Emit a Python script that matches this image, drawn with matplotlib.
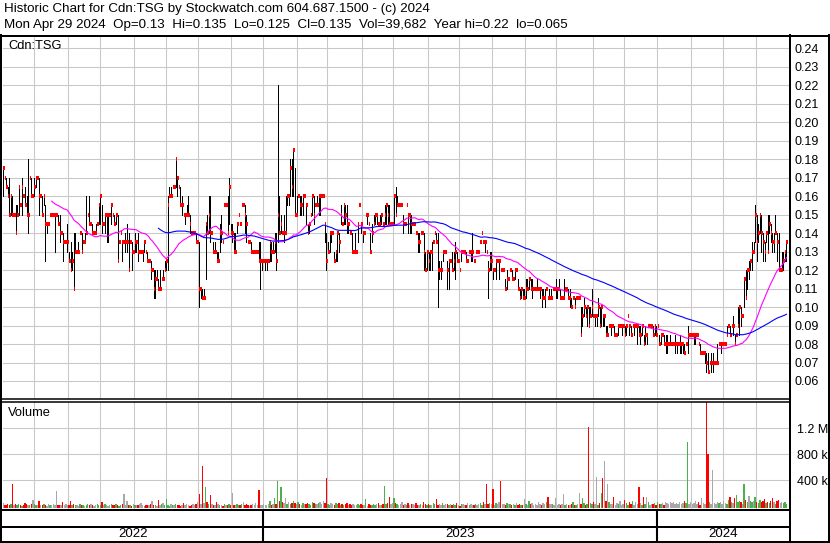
import matplotlib
matplotlib.use('Agg')
import matplotlib.pyplot as plt
import numpy as np
import pandas as pd

# daily bars, prices in half-cent units (1 = $0.005)
HI = [35, 34, 34, 33, 34, 32, 32, 30, 31, 31,
      33, 31, 34, 32, 33, 32, 36, 34, 34, 32,
      34, 34, 34, 34, 32, 32, 32, 31, 29, 29,
      30, 30, 30, 30, 30, 30, 30, 28, 28, 27,
      27, 29, 26, 27, 26, 28, 28, 26, 27, 28,
      28, 27, 28, 32, 30, 32, 29, 29, 28, 29,
      29, 31, 32, 31, 29, 30, 30, 30, 30, 31,
      30, 30, 30, 30, 27, 28, 27, 27, 28, 29,
      28, 27, 27, 26, 28, 27, 28, 26, 26, 26,
      27, 26, 26, 25, 25, 24, 24, 24, 24, 23,
      24, 23, 24, 25, 25, 32, 33, 33, 33, 33,
      36, 34, 33, 33, 32, 30, 30, 31, 32, 30,
      28, 28, 28, 28, 27, 27, 22, 22, 22, 29,
      30, 32, 32, 28, 27, 27, 26, 26, 29, 30,
      27, 31, 31, 32, 34, 29, 29, 28, 28, 29,
      30, 29, 31, 31, 31, 30, 27, 27, 27, 26,
      26, 26, 26, 27, 27, 25, 25, 25, 25, 25,
      27, 27, 27, 28, 28, 44, 32, 30, 28, 30,
      32, 32, 32, 36, 36, 37, 35, 32, 32, 32,
      32, 32, 32, 31, 29, 29, 30, 32, 32, 31,
      32, 32, 32, 32, 32, 29, 28, 27, 28, 28,
      28, 26, 26, 28, 28, 31, 29, 31, 31, 31,
      29, 28, 28, 26, 28, 26, 29, 31, 29, 28,
      28, 30, 30, 29, 28, 29, 30, 30, 30, 29,
      30, 30, 29, 31, 31, 31, 31, 29, 29, 32,
      33, 32, 31, 31, 31, 30, 29, 31, 30, 30,
      30, 29, 29, 28, 28, 28, 28, 28, 28, 26,
      26, 26, 26, 27, 27, 28, 28, 28, 25, 25,
      26, 26, 26, 25, 25, 25, 26, 26, 27, 26,
      25, 24, 26, 26, 26, 26, 25, 26, 26, 28,
      25, 26, 26, 26, 27, 28, 27, 27, 26, 25,
      26, 26, 24, 24, 25, 25, 25, 24, 24, 24,
      23, 24, 23, 24, 24, 23, 24, 24, 23, 22,
      22, 22, 22, 23, 23, 23, 23, 23, 22, 22,
      23, 22, 22, 22, 22, 22, 22, 21, 22, 22,
      22, 22, 23, 22, 23, 22, 21, 23, 22, 22,
      22, 22, 21, 21, 21, 21, 21, 21, 20, 20,
      21, 20, 20, 20, 20, 22, 19, 19, 19, 21,
      20, 20, 19, 19, 18, 18, 18, 18, 18, 18,
      17, 17, 18, 18, 18, 18, 18, 18, 19, 18,
      18, 18, 18, 18, 18, 18, 18, 18, 17, 18,
      17, 18, 18, 18, 18, 18, 18, 18, 17, 17,
      17, 17, 17, 17, 16, 17, 16, 16, 17, 16,
      16, 17, 16, 16, 16, 16, 18, 17, 17, 17,
      17, 17, 17, 16, 16, 15, 15, 15, 15, 15,
      14, 15, 15, 14, 14, 16, 16, 16, 16, 16,
      16, 18, 18, 18, 18, 19, 17, 17, 20, 20,
      20, 19, 23, 24, 24, 25, 25, 27, 27, 31,
      30, 29, 30, 30, 28, 27, 28, 30, 30, 29,
      28, 28, 30, 28, 28, 24, 26, 26, 26, 27]

LO = [32, 34, 33, 32, 30, 30, 30, 30, 28, 30,
      30, 31, 30, 32, 31, 30, 28, 34, 32, 32,
      32, 33, 34, 30, 32, 30, 31, 25, 28, 29,
      30, 30, 30, 26, 30, 29, 27, 28, 25, 27,
      27, 26, 25, 24, 24, 22, 26, 26, 26, 28,
      26, 27, 27, 28, 30, 29, 29, 28, 28, 28,
      29, 29, 29, 28, 29, 28, 27, 27, 30, 29,
      30, 29, 29, 25, 27, 28, 25, 27, 26, 26,
      24, 27, 24, 26, 26, 26, 25, 26, 26, 25,
      26, 26, 25, 25, 23, 24, 21, 21, 23, 22,
      22, 23, 23, 24, 24, 24, 32, 32, 33, 33,
      33, 32, 33, 31, 30, 30, 29, 30, 30, 28,
      28, 28, 28, 27, 27, 20, 21, 21, 21, 23,
      28, 28, 27, 28, 26, 26, 25, 25, 26, 27,
      27, 31, 31, 28, 29, 28, 27, 26, 26, 28,
      30, 29, 31, 31, 28, 27, 27, 27, 26, 26,
      26, 26, 26, 25, 22, 24, 25, 24, 24, 25,
      25, 25, 26, 26, 24, 27, 28, 28, 28, 27,
      28, 31, 31, 32, 32, 32, 30, 30, 32, 30,
      30, 30, 32, 29, 28, 28, 30, 30, 29, 31,
      31, 30, 30, 32, 32, 27, 24, 26, 26, 27,
      28, 25, 25, 25, 26, 29, 29, 29, 29, 28,
      28, 28, 26, 26, 26, 26, 27, 31, 28, 27,
      28, 30, 29, 29, 26, 27, 29, 29, 29, 29,
      29, 29, 29, 29, 29, 29, 29, 29, 29, 29,
      30, 31, 31, 31, 31, 28, 29, 31, 28, 28,
      28, 29, 29, 28, 26, 26, 28, 28, 24, 24,
      24, 24, 24, 24, 27, 28, 27, 20, 23, 23,
      25, 26, 26, 22, 22, 25, 24, 24, 23, 25,
      25, 24, 25, 26, 26, 25, 25, 26, 25, 25,
      25, 26, 26, 26, 27, 28, 27, 26, 26, 21,
      24, 24, 23, 24, 23, 25, 23, 24, 24, 24,
      22, 22, 23, 24, 23, 23, 23, 24, 22, 21,
      21, 21, 21, 21, 22, 22, 22, 21, 22, 22,
      22, 22, 21, 20, 21, 20, 22, 21, 21, 21,
      22, 22, 21, 21, 22, 21, 21, 21, 22, 22,
      21, 20, 20, 21, 20, 21, 21, 21, 17, 18,
      19, 19, 18, 18, 19, 19, 19, 18, 18, 19,
      18, 18, 18, 18, 17, 17, 18, 17, 18, 17,
      17, 17, 17, 18, 17, 18, 17, 17, 19, 17,
      17, 18, 17, 18, 16, 17, 16, 17, 16, 16,
      16, 18, 18, 18, 17, 17, 17, 18, 16, 16,
      17, 16, 15, 15, 16, 16, 16, 16, 15, 15,
      16, 15, 15, 15, 15, 16, 15, 17, 17, 17,
      16, 16, 17, 16, 15, 15, 15, 14, 13, 13,
      14, 13, 13, 14, 14, 14, 16, 15, 16, 16,
      16, 17, 18, 17, 18, 17, 16, 17, 18, 17,
      18, 19, 20, 21, 22, 23, 24, 24, 26, 27,
      25, 27, 28, 26, 25, 25, 27, 26, 28, 27,
      26, 26, 28, 25, 24, 24, 24, 24, 25, 25]

CL = [35, 34, 33, 32, 30, 32, 30, 30, 28, 30,
      33, 31, 33, 32, 31, 30, 30, 34, 32, 32,
      33, 34, 34, 32, 32, 30, 32, 29, 29, 29,
      30, 30, 30, 30, 30, 29, 28, 28, 27, 27,
      27, 27, 25, 24, 25, 22, 26, 26, 26, 28,
      26, 27, 27, 28, 30, 29, 29, 28, 28, 28,
      29, 31, 32, 29, 29, 30, 30, 30, 30, 31,
      30, 29, 30, 25, 27, 28, 27, 27, 27, 27,
      24, 27, 26, 26, 27, 27, 26, 26, 26, 26,
      27, 26, 25, 25, 24, 24, 22, 23, 23, 22,
      22, 23, 23, 24, 25, 31, 32, 32, 33, 33,
      36, 34, 33, 31, 31, 30, 30, 30, 30, 29,
      28, 28, 28, 27, 27, 22, 22, 21, 21, 29,
      28, 30, 28, 28, 26, 26, 25, 25, 28, 28,
      27, 31, 31, 28, 33, 28, 28, 26, 26, 29,
      30, 29, 31, 31, 30, 29, 27, 27, 26, 26,
      26, 26, 26, 25, 25, 25, 25, 25, 25, 25,
      27, 26, 26, 27, 25, 30, 28, 29, 28, 28,
      28, 32, 32, 35, 33, 37, 30, 30, 32, 31,
      31, 32, 32, 31, 28, 29, 30, 32, 30, 31,
      31, 32, 32, 32, 32, 29, 25, 26, 28, 28,
      28, 25, 26, 28, 27, 30, 29, 31, 30, 29,
      29, 28, 26, 26, 26, 26, 29, 31, 29, 28,
      28, 30, 30, 29, 26, 28, 29, 30, 30, 29,
      29, 30, 29, 30, 31, 30, 29, 29, 29, 32,
      30, 31, 31, 31, 31, 29, 29, 31, 30, 30,
      29, 29, 29, 28, 27, 27, 28, 28, 26, 24,
      26, 25, 26, 26, 27, 28, 27, 24, 24, 24,
      26, 26, 26, 24, 25, 25, 24, 25, 26, 25,
      25, 24, 26, 26, 26, 25, 25, 26, 26, 26,
      25, 26, 26, 26, 27, 28, 27, 27, 26, 24,
      25, 25, 24, 24, 25, 25, 25, 24, 24, 24,
      22, 23, 23, 24, 23, 23, 24, 24, 22, 21,
      22, 21, 21, 22, 22, 23, 22, 22, 22, 22,
      22, 22, 22, 21, 21, 21, 22, 21, 21, 21,
      22, 22, 22, 22, 22, 21, 21, 21, 22, 22,
      21, 21, 20, 21, 20, 21, 21, 21, 17, 19,
      20, 19, 20, 18, 19, 20, 19, 19, 19, 20,
      18, 20, 19, 19, 17, 17, 18, 18, 18, 17,
      17, 17, 18, 18, 18, 18, 17, 18, 19, 18,
      17, 18, 18, 18, 18, 17, 17, 18, 16, 17,
      17, 18, 18, 18, 17, 18, 17, 18, 16, 17,
      17, 16, 16, 16, 16, 16, 16, 16, 16, 16,
      16, 16, 16, 16, 15, 16, 17, 17, 17, 17,
      17, 17, 17, 16, 15, 15, 15, 15, 14, 13,
      14, 14, 14, 14, 14, 14, 16, 16, 16, 16,
      16, 17, 18, 17, 18, 18, 16, 17, 18, 20,
      19, 19, 23, 21, 24, 24, 25, 26, 26, 30,
      27, 28, 30, 28, 27, 26, 28, 26, 29, 28,
      27, 27, 28, 27, 24, 24, 24, 25, 26, 27]

# daily volume, thousands of shares
VOL_K = [45, 25, 20, 40, 15, 30, 338, 20, 35, 15, 40, 25, 12, 20, 50, 35, 20, 15, 30, 100, 35, 20, 25, 80, 15,
         20, 35, 15, 12, 40, 25, 20, 35, 15, 234, 25, 15, 20, 65, 15, 35, 25, 15, 80, 20, 30, 15, 25, 12, 35,
         15, 25, 12, 20, 35, 15, 40, 25, 12, 20, 30, 15, 25, 65, 20, 35, 15, 12, 25, 40, 20, 15, 30, 25, 12,
         15, 35, 190, 20, 80, 15, 25, 12, 40, 20, 15, 25, 35, 50, 20, 12, 25, 15, 20, 35, 85, 25, 15, 12, 100,
         20, 35, 55, 25, 110, 15, 12, 40, 20, 25, 35, 15, 25, 12, 20, 50, 15, 30, 20, 12, 25, 35, 15, 40, 60,
         197, 35, 623, 50, 300, 70, 35, 180, 40, 25, 15, 60, 35, 25, 20, 12, 35, 15, 25, 40, 20, 208, 15, 25, 35,
         25, 15, 35, 60, 20, 40, 15, 12, 25, 35, 20, 50, 15, 244, 25, 20, 35, 15, 25, 40, 75, 20, 35, 130, 35,
         390, 90, 300, 60, 45, 130, 40, 60, 30, 50, 75, 45, 30, 65, 40, 25, 45, 30, 40, 55, 30, 25, 60, 55, 35,
         30, 50, 60, 35, 85, 45, 431, 30, 25, 55, 35, 25, 45, 30, 55, 25, 35, 15, 30, 45, 20, 35, 25, 30, 15,
         25, 30, 15, 35, 20, 25, 110, 12, 30, 25, 15, 35, 20, 30, 45, 20, 25, 35, 311, 30, 45, 150, 35, 55, 130,
         45, 30, 25, 35, 60, 20, 30, 15, 50, 25, 35, 30, 20, 45, 25, 15, 35, 25, 70, 30, 20, 35, 15, 25, 45,
         30, 110, 25, 35, 15, 45, 20, 30, 40, 25, 35, 15, 30, 20, 45, 25, 12, 30, 35, 15, 25, 45, 20, 30, 15,
         25, 35, 15, 30, 45, 20, 60, 30, 348, 35, 45, 30, 260, 25, 45, 35, 60, 390, 30, 35, 25, 45, 40, 30, 20,
         30, 25, 45, 15, 35, 25, 20, 110, 30, 25, 80, 35, 45, 20, 30, 15, 65, 35, 25, 45, 30, 60, 140, 35, 30,
         30, 20, 130, 25, 40, 15, 30, 190, 20, 35, 25, 15, 30, 60, 20, 25, 40, 200, 30, 125, 45, 25, 30, 1210, 50,
         30, 60, 40, 457, 25, 50, 200, 442, 690, 80, 338, 60, 40, 30, 150, 25, 50, 35, 80, 20, 30, 100, 45, 25, 60,
         40, 80, 25, 60, 30, 300, 45, 20, 150, 35, 150, 60, 25, 40, 30, 50, 20, 60, 40, 35, 55, 25, 70, 45, 30,
         60, 45, 70, 30, 55, 40, 65, 35, 50, 80, 45, 987, 40, 60, 30, 55, 75, 40, 60, 25, 125, 50, 40, 1700, 805,
         60, 40, 555, 50, 30, 70, 45, 60, 35, 80, 55, 40, 100, 150, 60, 45, 125, 180, 70, 90, 60, 40, 338, 100, 60,
         165, 80, 60, 90, 150, 70, 50, 100, 60, 80, 110, 45, 70, 55, 90, 125, 60, 40, 80, 100, 55, 70, 45, 60, 40]

# first bar of each month (gridlines) and of each year
MONTH_STARTS = [20, 42, 62, 84, 104, 125, 146, 166, 188, 207, 229, 249,
                271, 291, 312, 333, 353, 376, 396, 417, 439, 459, 480]
YEAR_STARTS = [166, 417]
YEARS = ['2022', '2023', '2024']

PRICE_TICKS = [0.06, 0.07, 0.08, 0.09, 0.10, 0.11, 0.12, 0.13, 0.14, 0.15,
               0.16, 0.17, 0.18, 0.19, 0.20, 0.21, 0.22, 0.23, 0.24]
VOL_TICKS = [400000, 800000, 1200000]
VOL_TICK_LABELS = ['400 k', '800 k', '1.2 M']

TITLE = 'Historic Chart for Cdn:TSG by Stockwatch.com 604.687.1500 - (c) 2024'
INFO = ('Mon Apr 29 2024  Op=0.13  Hi=0.135  Lo=0.125  Cl=0.135  '
        'Vol=39,682  Year hi=0.22  lo=0.065')
SYMBOL = 'Cdn:TSG'
FAST_MA = 32
SLOW_MA = 100

W, H = 830, 543
GRID = '#c8c8c8'


def box(x0, y0, x1, y1):
    # pixel rectangle (top-left origin) -> figure fraction
    return [x0 / W, 1 - y1 / H, (x1 - x0) / W, (y1 - y0) / H]


assert len(HI) == len(LO) == len(CL) == len(VOL_K)

plt.rcParams['font.family'] = ['Liberation Sans', 'DejaVu Sans']
fig = plt.figure(figsize=(W / 100, H / 100), dpi=100)

hi = np.array(HI) * 0.005
lo = np.array(LO) * 0.005
cl = np.array(CL) * 0.005
vol = np.array(VOL_K) * 1000.0
n = len(cl)
idx = np.arange(n)
xlim = (0, n + 0.6)
grid_x = np.array(MONTH_STARTS) - 0.5

# ---- price panel
ax = fig.add_axes(box(3, 36, 789, 399))
ax.set_xlim(*xlim)
ax.set_ylim(0.05027, 0.24649)
ax.set_xticks(grid_x)
ax.set_yticks(PRICE_TICKS)
ax.yaxis.tick_right()
ax.set_yticklabels(['%.2f' % p for p in PRICE_TICKS])
ax.xaxis.set_ticklabels([])
ax.tick_params(length=0, labelsize=9, pad=4)
ax.grid(True, color=GRID, lw=0.75)
ax.set_axisbelow(True)
for s in ax.spines.values():
    s.set_visible(False)

ax.vlines(idx, lo, hi, colors='black', lw=0.72, antialiased=False)
ax.hlines(cl, idx, idx + 1.0, colors='#ff0000', lw=1.45, antialiased=False)

fast = pd.Series(cl).rolling(FAST_MA).mean()
slow = pd.Series(cl).rolling(SLOW_MA).mean()
ax.plot(idx, fast, color='#ff00ff', lw=0.8)
ax.plot(idx, slow, color='#0000ff', lw=0.8)
ax.text(0.0064, 0.972, SYMBOL, transform=ax.transAxes, fontsize=9.3,
        va='center', ha='left')

# ---- volume panel
axv = fig.add_axes(box(3, 402, 789, 509))
axv.set_xlim(*xlim)
vbot = -40000
axv.set_ylim(vbot, 1600000)
axv.set_xticks(grid_x)
axv.set_yticks(VOL_TICKS)
axv.yaxis.tick_right()
axv.set_yticklabels(VOL_TICK_LABELS)
for lbl in axv.get_yticklabels():
    lbl.set_horizontalalignment('right')
axv.xaxis.set_ticklabels([])
axv.tick_params(length=0, labelsize=9)
axv.tick_params(axis='y', pad=28)
axv.grid(True, color=GRID, lw=0.75)
axv.set_axisbelow(True)
for s in axv.spines.values():
    s.set_visible(False)

chg = np.diff(cl, prepend=cl[0])
vcol = np.where(chg > 0, '#4cb04c', np.where(chg < 0, '#ff0000', '#a8a8a8'))
# bars are drawn up from the panel floor, as the original chart does
axv.bar(idx, vol - vbot * 0.75, bottom=vbot * 0.75, width=0.9, color=vcol,
        antialiased=False)
axv.text(0.0064, 0.897, 'Volume', transform=axv.transAxes, fontsize=9.3,
         va='center', ha='left')

# ---- date strip with year labels
axd = fig.add_axes(box(3, 510, 789, 542))
axd.set_xlim(*xlim)
axd.set_ylim(0, 1)
axd.axis('off')
edges = [xlim[0]] + [y - 0.5 for y in YEAR_STARTS] + [xlim[1]]
axd.vlines(edges[1:-1], 0, 1, colors='black', lw=1.5)
for k, yr in enumerate(YEARS):
    axd.text((edges[k] + edges[k + 1]) / 2, 0.25, yr, fontsize=9.5,
             ha='center', va='center')

# ---- frame lines and header
axo = fig.add_axes([0, 0, 1, 1])
axo.set_xlim(0, W)
axo.set_ylim(H, 0)
axo.axis('off')
lw2 = 1.44
axo.plot([0, W], [35.5, 35.5], color='black', lw=lw2)
axo.plot([1, 1], [35, 542], color='black', lw=lw2)
axo.plot([789.5, 789.5], [35, 542], color='black', lw=lw2)
axo.plot([829, 829], [35, 542], color='black', lw=lw2)
axo.plot([0, 789.5], [399, 399], color='black', lw=1.1)
axo.plot([0, 789.5], [402, 402], color='black', lw=1.1)
axo.plot([0, 789.5], [510, 510], color='black', lw=lw2)
axo.plot([0, 789.5], [526.5, 526.5], color='black', lw=lw2)
axo.plot([0, W], [541.5, 541.5], color='black', lw=lw2)

fig.text(4 / W, 1 - 9 / H, TITLE, fontsize=9.6, va='center', ha='left')
fig.text(4 / W, 1 - 25 / H, INFO, fontsize=9.6, va='center', ha='left')

fig.savefig('out.png', dpi=100)
